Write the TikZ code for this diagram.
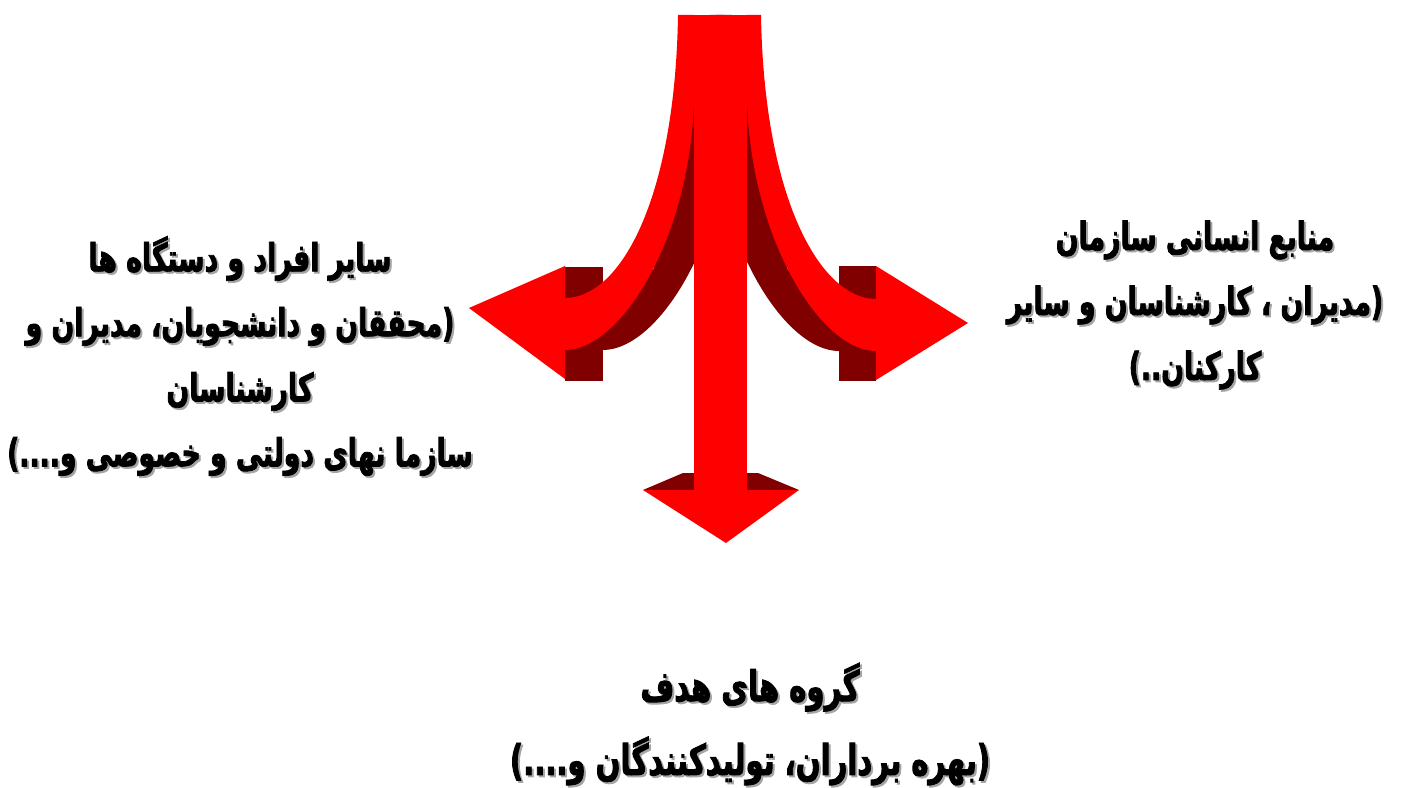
\documentclass[tikz,border=0pt]{standalone}
\usepackage{fontspec}
\usepackage{tikz}
\usetikzlibrary{calc}
\TeXXeTstate=1
\newfontfamily\arabicfont[Script=Arabic, FakeStretch=0.69,
  BoldFeatures={FakeBold=2}]{DejaVu Sans}
\definecolor{ArrRed}{RGB}{255,0,0}
\definecolor{ArrDark}{RGB}{128,0,0}
\definecolor{TxtShade}{RGB}{165,165,165}

% label with a soft offset shade behind it
\newcommand{\shadelabel}[4][]{%
  \node[grouptext, #1, TxtShade] (#2-sh) at ($#3+(2,2)$) {#4};
  \node[grouptext, #1] (#2) at #3 {#4};}

\begin{document}
\begin{tikzpicture}[x=0.02cm, y=-0.02cm,
    grouptext/.style={font=\arabicfont\bfseries\fontsize{22}{37}\selectfont,
                      align=center, inner sep=0pt, text=black},
    widegap/.style={font=\arabicfont\bfseries\fontsize{24}{42}\selectfont},
    armdark/.style={fill=ArrDark, draw=none},
    armred/.style={fill=ArrRed, draw=none}]
  \useasboundingbox (0,0) rectangle (1408,787);

  % Extruded sides (drawn first)
  \fill[armdark] (565,267) rectangle (603,381);
  \fill[armdark] (839,266) rectangle (876,381);
  \fill[armdark, xshift=0.76cm]
    (678,15) .. controls (675,200) and (620,298) .. (565,298)
    -- (565,350) .. controls (620,350) and (690,240) .. (694,100)
    -- (694,15) -- cycle;
  \fill[armdark, xshift=-0.74cm]
    (761,15) .. controls (764,200) and (821,299) .. (876,299)
    -- (876,351) .. controls (821,351) and (751,240) .. (747,100)
    -- (747,15) -- cycle;
  \fill[armdark] (694,100) -- (694,262) -- (660,290) -- (652,262) -- (679,100) -- cycle;
  \fill[armdark] (747,100) -- (747,262) -- (781,290) -- (789,262) -- (762,100) -- cycle;
  \fill[armdark] (643,490) -- (683,473) -- (758,473) -- (799,490) -- cycle;

  % Left arm
  \fill[armred]
    (678,15) .. controls (675,200) and (620,298) .. (565,298)
    -- (565,350) .. controls (620,350) and (690,240) .. (694,100)
    -- (694,15) -- cycle;
  \fill[armred] (565,266) -- (469,308) -- (565,379) -- cycle;

  % Right arm
  \fill[armred]
    (761,15) .. controls (764,200) and (821,299) .. (876,299)
    -- (876,351) .. controls (821,351) and (751,240) .. (747,100)
    -- (747,15) -- cycle;
  \fill[armred] (876,266) -- (968,323) -- (876,380) -- cycle;

  % Stem and down head
  \fill[armred] (694,15) rectangle (747,491);
  \fill[armred] (643,490) -- (799,490) -- (726,543) -- cycle;

  % Groups
  \shadelabel{others}{(240,356)}{%
    \beginR سایر افراد و دستگاه ها\endR\\
    \beginR(محققان و دانشجویان، مدیران و\endR\\
    \beginR کارشناسان\endR\\
    \beginR سازما نهای دولتی و خصوصی و....)\endR}
  \shadelabel{staff}{(1195,305)}{%
    \beginR منابع انسانی سازمان\endR\\
    \beginR(مدیران ، کارشناسان و سایر\endR\\
    \beginR کارکنان..)\endR}
  \shadelabel[widegap]{target}{(750,724)}{%
    \beginR گروه های هدف\endR\\
    \beginR(بهره برداران، تولیدکنندگان و....)\endR}
\end{tikzpicture}
\end{document}
